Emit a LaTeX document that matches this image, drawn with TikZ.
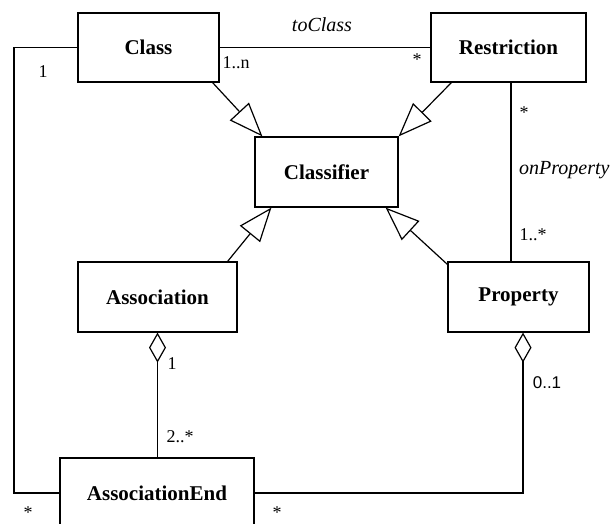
\documentclass[tikz,border=0pt]{standalone}
\usepackage{fontspec}
\setmainfont{Liberation Serif}
\newfontfamily\sansf{Liberation Sans}
\usetikzlibrary{arrows.meta,calc}
\tikzset{
  cls/.style={draw, line width=1.2pt, fill=white, inner sep=0pt,
    font=\fontsize{21}{24}\selectfont\bfseries},
  mult/.style={inner sep=0pt, font=\fontsize{18}{20}\selectfont},
  role/.style={inner sep=0pt, font=\fontsize{20}{22}\selectfont\itshape},
  conn/.style={line width=1.2pt},
  gen/.style={conn, -{Triangle[open, length=34pt, width=26pt, line width=1.2pt]}},
  agg/.style={conn, {Diamond[open, length=30pt, width=17pt, line width=1.2pt]}-}
}
\begin{document}
\begin{tikzpicture}[x=1pt, y=-1pt]
\useasboundingbox (0,0) rectangle (615,524);
\clip (0,0) rectangle (615,524);
% classes
\node[cls, minimum width=141pt, minimum height=69pt] (cls) at (148.5,47.5) {Class};
\node[cls, minimum width=155pt, minimum height=69pt] (res) at (508.5,47.5) {Restriction};
\node[cls, minimum width=143pt, minimum height=70pt] (clf) at (326.5,172) {Classifier};
\node[cls, minimum width=159pt, minimum height=70pt] (asc) at (157.5,297) {Association};
\node[cls, minimum width=141pt, minimum height=70pt] (prp) at (518.5,297) {Property};
\node[cls, minimum width=194pt, minimum height=70pt] (aend) at (157,493) {AssociationEnd};
% helper coordinates
\coordinate (rpx) at (511,0);
\coordinate (ppx) at (523,0);
\coordinate (lx) at (14,0);
% generalizations
\draw[gen] ($(cls.south east)+(-7,0)$) -- ($(clf.north west)+(8,0)$);
\draw[gen] ($(res.south west)+(21,0)$) -- (clf.north east);
\draw[gen] ($(asc.north east)+(-10,0)$) -- ($(clf.south west)+(17,0)$);
\draw[gen] ($(prp.north west)+(0,3)$) -- ($(clf.south east)+(-13,0)$);
% associations
\draw[conn] (cls.east) -- (res.west);
\draw[conn] (res.south -| rpx) -- (prp.north -| rpx);
\draw[conn] (cls.west) -- (cls.west -| lx) -- (aend.west -| lx) -- (aend.west);
\draw[agg] (asc.south) -- (asc.south |- aend.north);
\draw[agg] (prp.south -| ppx) -- (aend.east -| ppx) -- (aend.east);
% labels
\node[role] (l-tocls) at (322,25) {toClass};
\node[mult] (m-1n) at (236,63) {1..n};
\node[mult] (m-rs) at (417,60) {*};
\node[mult] (m-c1) at (43,72) {1};
\node[mult] (m-rb) at (524,113) {*};
\node[role, anchor=west] (l-onp) at (519,170) {onProperty};
\node[mult] (m-1s) at (533,235) {1..*};
\node[mult] (m-a1) at (172,364) {1};
\node[mult] (m-2s) at (180,437) {2..*};
\node[mult, font=\sansf\fontsize{17}{20}\selectfont] (m-01) at (547,383) {0..1};
\node[mult, anchor=north] (m-bl) at (28,507) {*};
\node[mult, anchor=north] (m-br) at (277,507) {*};
\end{tikzpicture}
\end{document}
